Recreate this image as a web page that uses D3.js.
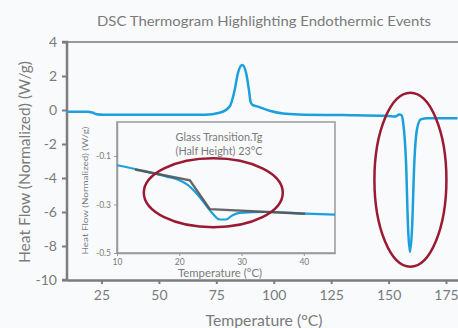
<!DOCTYPE html>
<html>
<head>
<meta charset="utf-8">
<script src="https://cdn.jsdelivr.net/npm/d3@7"></script>
<style>
  html, body { margin: 0; padding: 0; background: #f9fafc; }
  svg { display: block; font-family: Lato, "Open Sans", sans-serif; }
</style>
</head>
<body>
<svg id="chart" width="458" height="328"></svg>
<script>
// ── data ──
const mainTemps = [10, 19, 21, 23, 26, 70, 76.4, 80.8, 83, 84.4, 86.3, 88, 89.2, 89.9, 90.7, 93.1, 98.2, 104, 111, 130, 150, 153, 154.6, 155.6, 156.3, 157.6, 158.5, 159.3, 160.2, 161.2, 162.4, 164, 167, 180];
const mainFlow  = [-0.1, -0.1, -0.15, -0.25, -0.28, -0.28, -0.16, 0.2, 1.18, 2.16, 2.65, 2.16, 1.18, 0.49, 0.3, 0.2, -0.04, -0.2, -0.26, -0.3, -0.36, -0.38, -0.27, -0.3, -0.7, -3.1, -7.0, -8.35, -7.0, -3.1, -1.1, -0.55, -0.48, -0.49];

const insetTemps = [10, 14, 18, 20, 21.4, 23.3, 25.1, 26.5, 27.5, 28.5, 29.7, 34, 40.3, 45];
const insetFlow  = [-0.138, -0.16, -0.185, -0.2, -0.22, -0.27, -0.33, -0.362, -0.362, -0.345, -0.335, -0.331, -0.338, -0.342];

const tangentTemps = [12.9, 21.7, 24.9, 40.2];
const tangentFlow  = [-0.156, -0.2, -0.319, -0.338];

const mainXTicks = [25, 50, 75, 100, 125, 150, 175];
const mainYTicks = [4, 2, 0, -2, -4, -6, -8, -10];
const insetXTicks = [10, 20, 30, 40];
const insetYTicks = [-0.1, -0.3, -0.5];

const TITLE = 'DSC Thermogram Highlighting Endothermic Events';
const Y_LABEL = 'Heat Flow (Normalized) (W/g)';
const X_LABEL = 'Temperature (°C)';
const NOTE = ['Glass Transition.Tg', '(Half Height) 23°C'];

const BLUE = '#1ba0dc', RED = '#9b1a33', AXIS = '#7d7d7d', TEXT = '#7a7a7a', DARK = '#555';
const hyphen = f => d => f(d).replace('\u2212', '-');

const svg = d3.select('#chart');

// the reference font is a wide geometric face; stretch text to its measured widths
function label(sel, width) {
  return sel.attr('textLength', width).attr('lengthAdjust', 'spacingAndGlyphs');
}

// ── main chart ──
const x = d3.scaleLinear().domain([10, 180]).range([67, 457.5]);
const y = d3.scaleLinear().domain([-10, 4]).range([280, 42]);

label(svg.append('text')
  .attr('x', 264).attr('y', 26).attr('text-anchor', 'middle')
  .attr('font-size', 13.5).attr('fill', TEXT).text(TITLE), 334);

// top frame line
svg.append('line')
  .attr('x1', x(10)).attr('x2', 458).attr('y1', y(4)).attr('y2', y(4))
  .attr('stroke', '#999').attr('stroke-width', 2);

const yAxis = svg.append('g').attr('transform', `translate(${x(10)},0)`)
  .call(d3.axisLeft(y).tickValues(mainYTicks).tickSize(5).tickPadding(5).tickFormat(hyphen(d3.format('d'))));
const xAxis = svg.append('g').attr('transform', `translate(0,${y(-10)})`)
  .call(d3.axisBottom(x).tickValues(mainXTicks).tickSize(4).tickPadding(6).tickSizeOuter(0));
[xAxis, yAxis].forEach(g => {
  g.select('.domain').attr('stroke', AXIS).attr('stroke-width', 2.5);
  g.selectAll('.tick line').attr('stroke', AXIS).attr('stroke-width', 2);
  g.selectAll('.tick text').attr('fill', TEXT).attr('font-size', 14).attr('font-family', 'Lato, sans-serif');
});
yAxis.select('.domain').attr('d', `M-5,${y(4)}H0V${y(-10)}H-5`);

label(svg.append('text')
  .attr('transform', `translate(30,${(y(4) + y(-10)) / 2 + 1}) rotate(-90)`)
  .attr('text-anchor', 'middle').attr('font-size', 15).attr('fill', TEXT)
  .text(Y_LABEL), 202);
label(svg.append('text')
  .attr('x', 264).attr('y', 326).attr('text-anchor', 'middle')
  .attr('font-size', 15).attr('fill', TEXT).text(X_LABEL), 117);

const mainLine = d3.line().x(d => x(d[0])).y(d => y(d[1])).curve(d3.curveMonotoneX);
svg.append('path')
  .datum(d3.zip(mainTemps, mainFlow))
  .attr('d', mainLine)
  .attr('fill', 'none').attr('stroke', BLUE).attr('stroke-width', 2.5)
  .attr('stroke-linejoin', 'round');

// highlight around the melting dip
svg.append('ellipse')
  .attr('cx', x(159.5)).attr('cy', y(-4.1)).attr('rx', 36).attr('ry', 87)
  .attr('fill', 'none').attr('stroke', RED).attr('stroke-width', 2.5);

// ── inset: glass transition ──
const ix = d3.scaleLinear().domain([10, 45]).range([117, 335]);
const iy = d3.scaleLinear().domain([-0.5, 0.04]).range([253, 122]);

const inset = svg.append('g');
inset.append('rect')
  .attr('x', ix(10)).attr('y', iy(0.04)).attr('width', ix(45) - ix(10)).attr('height', iy(-0.5) - iy(0.04))
  .attr('fill', '#f9fafc').attr('stroke', '#999').attr('stroke-width', 1.5);

const ixAxis = inset.append('g').attr('transform', `translate(0,${iy(-0.5)})`)
  .call(d3.axisBottom(ix).tickValues(insetXTicks).tickSize(3).tickPadding(3).tickSizeOuter(0));
const iyAxis = inset.append('g').attr('transform', `translate(${ix(10)},0)`)
  .call(d3.axisLeft(iy).tickValues(insetYTicks).tickSize(3).tickPadding(3).tickSizeOuter(0)
    .tickFormat(hyphen(d3.format('.1f'))));
[ixAxis, iyAxis].forEach(g => {
  g.select('.domain').attr('stroke', '#999').attr('stroke-width', 1.5);
  g.selectAll('.tick line').attr('stroke', '#999');
  g.selectAll('.tick text').attr('fill', TEXT).attr('font-size', 8.5).attr('font-family', 'Lato, sans-serif');
});

label(inset.append('text')
  .attr('transform', `translate(88,${(iy(0.04) + iy(-0.5)) / 2 + 3}) rotate(-90)`)
  .attr('text-anchor', 'middle').attr('font-size', 8).attr('fill', TEXT).text(Y_LABEL), 128);
label(inset.append('text')
  .attr('x', 220).attr('y', 277).attr('text-anchor', 'middle')
  .attr('font-size', 11).attr('fill', TEXT).text(X_LABEL), 84);

inset.selectAll('.note').data(NOTE).join('text')
  .attr('class', 'note')
  .attr('x', 219).attr('y', (d, i) => 141 + i * 14).attr('text-anchor', 'middle')
  .attr('font-size', 10.5).attr('fill', TEXT).text(d => d)
  .call(label, 87);

const insetLine = d3.line().x(d => ix(d[0])).y(d => iy(d[1])).curve(d3.curveMonotoneX);
inset.append('path')
  .datum(d3.zip(insetTemps, insetFlow))
  .attr('d', insetLine)
  .attr('fill', 'none').attr('stroke', BLUE).attr('stroke-width', 2.2);
inset.append('path')
  .datum(d3.zip(tangentTemps, tangentFlow))
  .attr('d', d3.line().x(d => ix(d[0])).y(d => iy(d[1])))
  .attr('fill', 'none').attr('stroke', DARK).attr('stroke-width', 2.4).attr('stroke-opacity', 0.9);

inset.append('ellipse')
  .attr('cx', 213.3).attr('cy', 192.7).attr('rx', 69.5).attr('ry', 34.5)
  .attr('fill', 'none').attr('stroke', RED).attr('stroke-width', 2.5);
</script>
</body>
</html>
